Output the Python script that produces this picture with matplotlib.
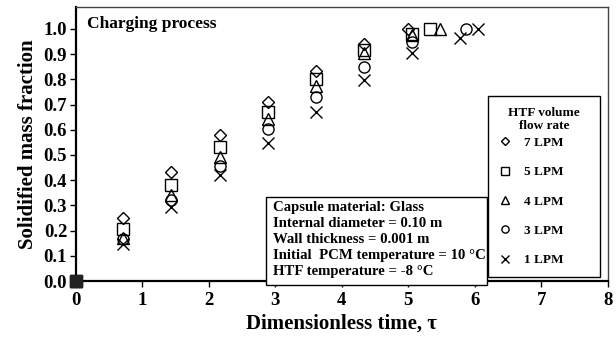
import matplotlib
matplotlib.use("Agg")
import matplotlib.pyplot as plt
from matplotlib.patches import Rectangle

plt.rcParams['font.family'] = ['Liberation Serif', 'DejaVu Serif']
plt.rcParams['font.weight'] = 'bold'

# solidified mass fraction vs dimensionless time for each HTF flow rate
tau_7 = [0.0, 0.72, 1.44, 2.17, 2.89, 3.61, 4.33, 5.0]
frac_7 = [0.0, 0.25, 0.434, 0.58, 0.71, 0.834, 0.94, 1.0]

tau_5 = [0.0, 0.72, 1.44, 2.17, 2.89, 3.61, 4.33, 5.05, 5.33]
frac_5 = [0.0, 0.205, 0.38, 0.533, 0.672, 0.80, 0.917, 0.98, 1.0]

tau_4 = [0.0, 0.72, 1.44, 2.17, 2.89, 3.61, 4.33, 5.05, 5.48]
frac_4 = [0.0, 0.172, 0.34, 0.493, 0.643, 0.774, 0.906, 0.975, 1.0]

tau_3 = [0.0, 0.72, 1.44, 2.17, 2.89, 3.61, 4.33, 5.05, 5.87]
frac_3 = [0.0, 0.165, 0.32, 0.457, 0.602, 0.731, 0.85, 0.95, 1.0]

tau_1 = [0.0, 0.72, 1.44, 2.17, 2.89, 3.61, 4.33, 5.05, 5.77, 6.05]
frac_1 = [0.0, 0.147, 0.294, 0.42, 0.546, 0.669, 0.798, 0.905, 0.965, 1.0]

series = [
    (tau_7, frac_7, 'D', 6, '7 LPM'),
    (tau_5, frac_5, 's', 8, '5 LPM'),
    (tau_4, frac_4, '^', 8, '4 LPM'),
    (tau_3, frac_3, 'o', 8, '3 LPM'),
    (tau_1, frac_1, 'x', 8, '1 LPM'),
]

info_lines = [
    "Capsule material: Glass",
    "Internal diameter = 0.10 m",
    "Wall thickness = 0.001 m",
    "Initial  PCM temperature = 10 \u00b0C",
    "HTF temperature = -8 \u00b0C",
]

fig = plt.figure(figsize=(6.16, 3.42), dpi=100)
ax = fig.add_axes([75.5 / 616, 1 - 281 / 342, 532.5 / 616, 274 / 342])

for x, y, m, ms, lab in series:
    ax.plot(x, y, linestyle='none', marker=m, markersize=ms,
            markerfacecolor='none', markeredgecolor='black',
            markeredgewidth=1.0, label=lab, clip_on=False, zorder=3)

# all curves start from the origin
ax.plot([0], [0], marker='s', markersize=8, color='#222222',
        linestyle='none', clip_on=False, zorder=4)

ax.set_xlim(0, 8)
ax.set_ylim(0, 1.087)
ax.set_xticks(range(0, 9))
ax.set_yticks([i / 10 for i in range(11)])
ax.set_yticklabels([f"{i / 10:.1f}" for i in range(11)])
ax.tick_params(direction='out', length=4, width=1, labelsize=13.5,
               colors='black', pad=2)
ax.tick_params(axis='x', pad=4)
for lbl in ax.get_xticklabels() + ax.get_yticklabels():
    lbl.set_fontweight('bold')

for side in ['left', 'bottom']:
    ax.spines[side].set_linewidth(1.6)
for side in ['top', 'right']:
    ax.spines[side].set_linewidth(1.0)
    ax.spines[side].set_color('#444444')

ax.set_xlabel("Dimensionless time, \u03c4", fontsize=15, fontweight='bold',
              labelpad=3)
ax.set_ylabel("Solidified mass fraction", fontsize=15, fontweight='bold',
              labelpad=4)

ax.text(0.17, 1.02, "Charging process", fontsize=12.5, fontweight='bold',
        va='center', ha='left')

# box with the test conditions
ax.add_patch(Rectangle((2.862, -0.016), 3.32, 0.349, facecolor='white',
                       edgecolor='black', linewidth=1.0, zorder=5,
                       clip_on=False))
for i, line in enumerate(info_lines):
    ax.text(2.97, 0.29 - i * 0.0635, line, fontsize=10.6, fontweight='bold',
            va='center', ha='left', zorder=6)

leg = ax.legend(loc='lower left', bbox_to_anchor=(0.775, 0.015, 0.21, 0.645),
                mode='expand', borderaxespad=0, title="HTF volume\nflow rate",
                prop={'size': 9.5, 'weight': 'bold'},
                title_fontproperties={'size': 9.5, 'weight': 'bold'},
                markerscale=0.65, labelspacing=1.3, handletextpad=0.9,
                handlelength=1.0, borderpad=0.8, fancybox=False,
                framealpha=1, edgecolor='black')
leg.get_frame().set_linewidth(1.0)
leg.get_title().set_multialignment('center')
leg._legend_box.sep = 3

fig.savefig("out.png", dpi=100)
